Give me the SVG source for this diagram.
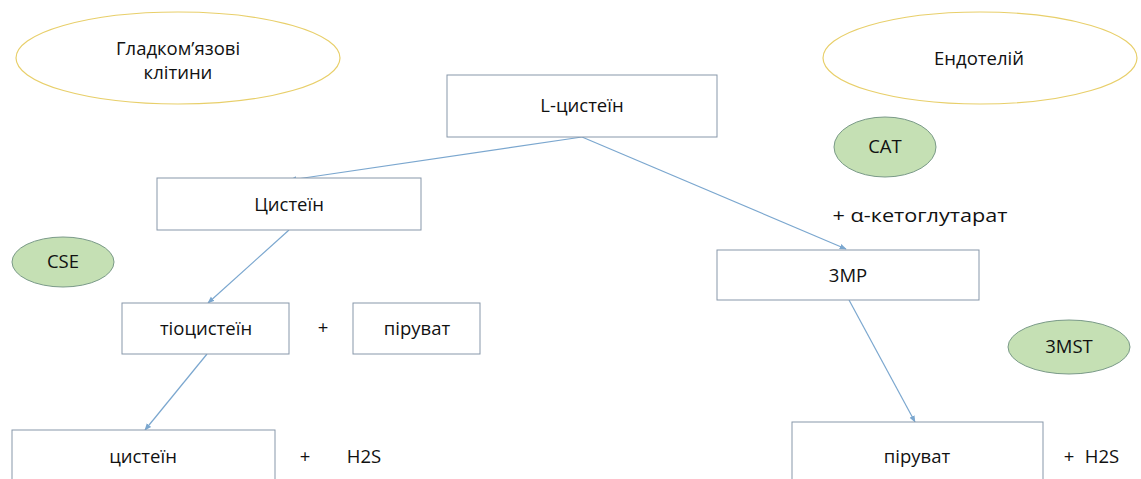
<svg xmlns="http://www.w3.org/2000/svg" width="1141" height="479" viewBox="0 0 1141 479">
<defs>
<style>
text{font-family:"Open Sans","Liberation Sans",sans-serif;font-size:18.5px;fill:#111;text-anchor:middle}
.box{fill:#fff;stroke:#8797aa;stroke-width:1}
.cell{fill:#fff;stroke:#e8cf6a;stroke-width:1.2}
.enz{fill:#c5e0b4;stroke:#7a9a88;stroke-width:1}
.conn{stroke:#7ba7cf;stroke-width:1.2;fill:none;marker-end:url(#ah)}
</style>
<marker id="ah" viewBox="0 0 10 10" refX="9" refY="5" markerWidth="7" markerHeight="7" orient="auto-start-reverse" markerUnits="userSpaceOnUse">
<path d="M0,1 L10,5 L0,9 z" fill="#7ba7cf"/>
</marker>
</defs>
<rect width="1141" height="479" fill="#fff"/>
<g id="connectors">
<line class="conn" x1="582" y1="137" x2="290" y2="180"/>
<line class="conn" x1="582" y1="137" x2="846" y2="249"/>
<line class="conn" x1="289" y1="230" x2="208" y2="303"/>
<line class="conn" x1="207" y1="354" x2="145" y2="430"/>
<line class="conn" x1="849" y1="300" x2="915" y2="422"/>
</g>
<g id="smooth-muscle">
<ellipse class="cell" cx="178" cy="58" rx="162" ry="46"/>
<text x="178" y="55">Гладком’язові</text>
<text x="178" y="79">клітини</text>
</g>
<g id="endothelium">
<ellipse class="cell" cx="980" cy="58" rx="157" ry="46"/>
<text x="979" y="65">Ендотелій</text>
</g>
<g id="l-cysteine">
<rect class="box" x="447" y="75" width="270" height="62"/>
<text x="582" y="112">L-цистеїн</text>
</g>
<g id="cysteine">
<rect class="box" x="157" y="178" width="264" height="52"/>
<text x="289" y="211">Цистеїн</text>
</g>
<g id="cse">
<ellipse class="enz" cx="63" cy="262" rx="51" ry="25"/>
<text x="63" y="268">CSE</text>
</g>
<g id="thiocysteine">
<rect class="box" x="122" y="303" width="167" height="51"/>
<text x="206" y="335">тіоцистеїн</text>
</g>
<text x="323" y="334">+</text>
<g id="pyruvate-left">
<rect class="box" x="353" y="303" width="127" height="51"/>
<text x="417" y="335">піруват</text>
</g>
<g id="cysteine-bottom">
<rect class="box" x="12" y="430" width="263" height="60"/>
<text x="143" y="463">цистеїн</text>
</g>
<text x="305" y="463">+</text>
<text x="364" y="463">H2S</text>
<g id="cat">
<ellipse class="enz" cx="885" cy="147" rx="51" ry="30"/>
<text x="885" y="153">CAT</text>
</g>
<text x="920" y="222" textLength="175" lengthAdjust="spacingAndGlyphs">+ α-кетоглутарат</text>
<g id="3mp">
<rect class="box" x="717" y="250" width="262" height="50"/>
<text x="848" y="282">3MP</text>
</g>
<g id="3mst">
<ellipse class="enz" cx="1069" cy="347" rx="61" ry="27"/>
<text x="1069" y="353">3MST</text>
</g>
<g id="pyruvate-right">
<rect class="box" x="792" y="422" width="251" height="68"/>
<text x="917" y="463">піруват</text>
</g>
<text x="1069" y="463">+</text>
<text x="1102" y="463">H2S</text>
</svg>
